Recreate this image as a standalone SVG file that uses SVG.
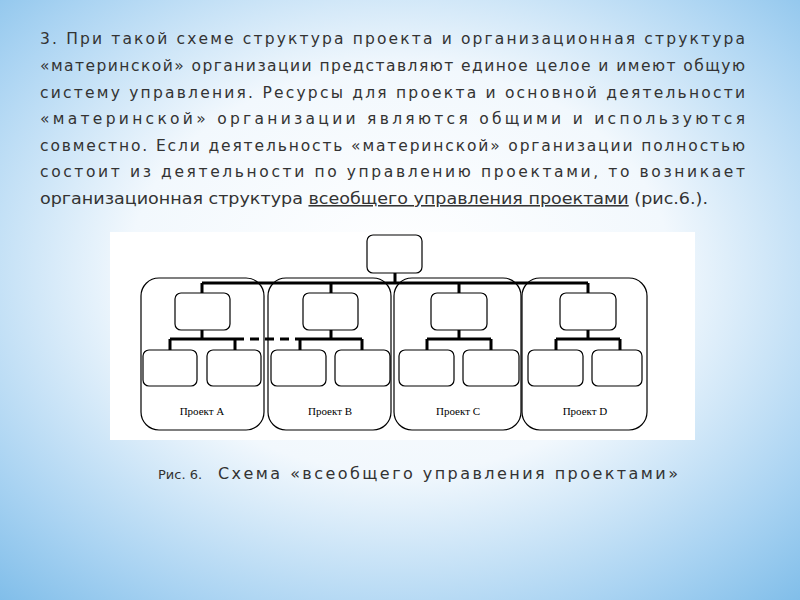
<svg xmlns="http://www.w3.org/2000/svg" width="800" height="600" viewBox="0 0 800 600">
<defs>
<radialGradient id="bg" cx="0.5" cy="0.45" r="0.75">
<stop offset="0" stop-color="#ffffff"/><stop offset="0.45" stop-color="#f2f8fd"/><stop offset="0.8" stop-color="#a9d3f2"/><stop offset="1" stop-color="#7fbde9"/>
</radialGradient>
<style>
.t{font-family:"DejaVu Sans",sans-serif;font-size:15.5px;fill:#333}
.b{fill:none;stroke:#000;stroke-width:1.2}
.w{fill:#fff;stroke:#000;stroke-width:1.2}
.c{stroke:#000;stroke-width:3;fill:none}
.l{font-family:"Liberation Serif",serif;font-size:11px;fill:#000;text-anchor:middle}
</style>
</defs>
<rect width="800" height="600" fill="url(#bg)"/>
<g class="t">
<text x="40" y="44" textLength="705" lengthAdjust="spacing">3. При такой схеме структура проекта и организационная структура</text>
<text x="40" y="71" textLength="705" lengthAdjust="spacing">«материнской» организации представляют единое целое и имеют общую</text>
<text x="40" y="98" textLength="705" lengthAdjust="spacing">систему управления. Ресурсы для проекта и основной деятельности</text>
<text x="40" y="124" textLength="705" lengthAdjust="spacing">«материнской» организации являются общими и используются</text>
<text x="40" y="151" textLength="705" lengthAdjust="spacing">совместно. Если деятельность «материнской» организации полностью</text>
<text x="40" y="177" textLength="705" lengthAdjust="spacing">состоит из деятельности по управлению проектами, то возникает</text>
<text x="40" y="204" textLength="668" lengthAdjust="spacingAndGlyphs">организационная структура <tspan text-decoration="underline">всеобщего управления проектами</tspan> (рис.6.).</text>
</g>
<rect x="110" y="232" width="585" height="208" fill="#fff"/>
<g id="connectors">
<path class="c" d="M395 273V283M202 283H588M202 283V293M331 283V293M459 283V293M588 283V293"/>
<path class="c" d="M202 330V339M170 339H235M170 339V350M235 339V350M331 330V339M300 339H362M300 339V350M362 339V350M459 330V339M427 339H491M427 339V350M491 339V350M588 330V339M556 339H620M556 339V350M620 339V350"/>
<path class="c" d="M235 339H300" stroke-dasharray="9 6"/>
</g>
<g id="top"><rect class="w" x="367" y="235" width="55" height="38" rx="6"/></g>
<g id="projA"><rect class="b" x="141" y="278" width="123" height="152" rx="18"/><rect class="w" x="175" y="293" width="55" height="37" rx="6"/><rect class="w" x="143" y="350" width="54" height="36" rx="6"/><rect class="w" x="207" y="350" width="54" height="36" rx="6"/><text class="l" x="202" y="415">Проект A</text></g>
<g id="projB"><rect class="b" x="268" y="278" width="123" height="152" rx="18"/><rect class="w" x="303" y="293" width="55" height="37" rx="6"/><rect class="w" x="271" y="350" width="55" height="36" rx="6"/><rect class="w" x="335" y="350" width="55" height="36" rx="6"/><text class="l" x="330" y="415">Проект B</text></g>
<g id="projC"><rect class="b" x="394" y="278" width="127" height="152" rx="18"/><rect class="w" x="431" y="293" width="56" height="37" rx="6"/><rect class="w" x="399" y="350" width="55" height="36" rx="6"/><rect class="w" x="463" y="350" width="56" height="36" rx="6"/><text class="l" x="458" y="415">Проект C</text></g>
<g id="projD"><rect class="b" x="522" y="278" width="125" height="152" rx="18"/><rect class="w" x="560" y="293" width="56" height="37" rx="6"/><rect class="w" x="528" y="350" width="55" height="36" rx="6"/><rect class="w" x="592" y="350" width="50" height="36" rx="6"/><text class="l" x="585" y="415">Проект D</text></g>
<text x="158" y="479" font-family="'DejaVu Sans',sans-serif" font-size="13" fill="#333">Рис. 6.</text>
<text x="218" y="479" font-family="'DejaVu Sans',sans-serif" font-size="16" fill="#333" textLength="460" lengthAdjust="spacing">Схема «всеобщего управления проектами»</text>
</svg>
